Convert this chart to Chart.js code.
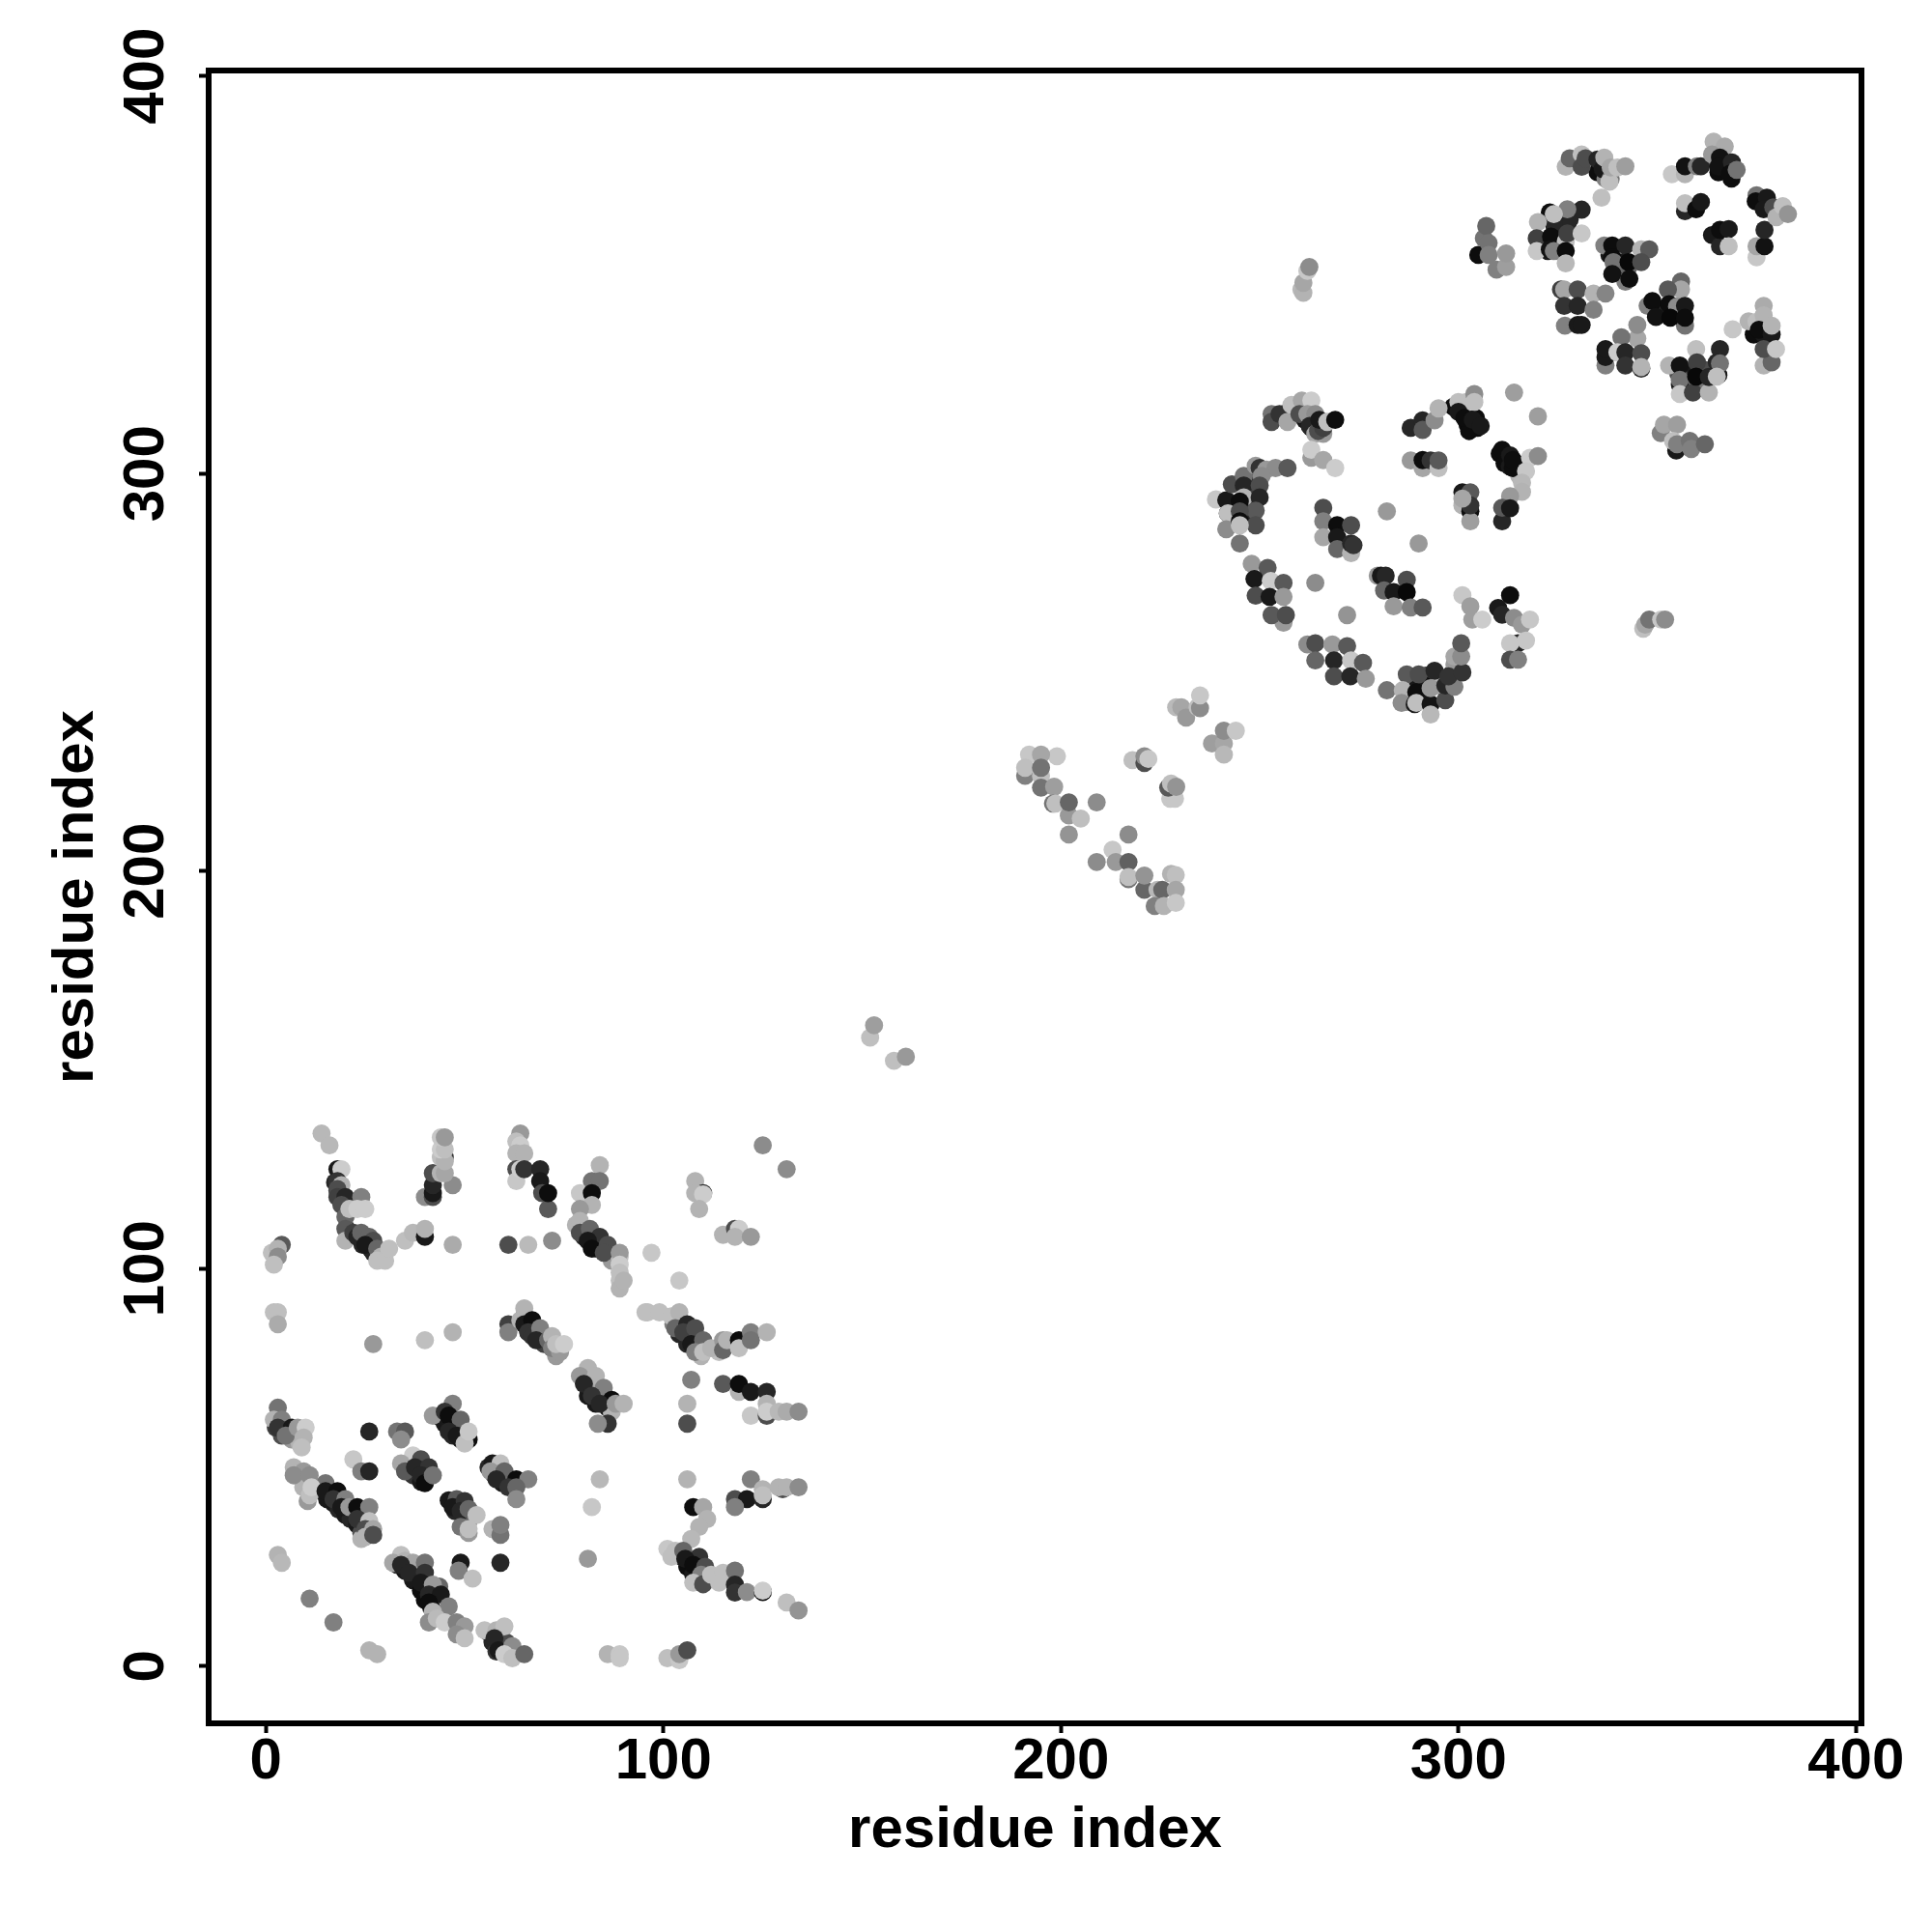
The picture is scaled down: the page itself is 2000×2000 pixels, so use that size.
<!DOCTYPE html>
<html>
<head>
<meta charset="utf-8">
<title>residue contact map</title>
<script src="https://cdn.jsdelivr.net/npm/chart.js@4/dist/chart.umd.min.js"></script>
<style>
  html, body { margin: 0; padding: 0; background: #fff; }
  canvas { display: block; }
</style>
</head>
<body>
<canvas id="contactMap" width="2000" height="2000"></canvas>
<script>
// each contact: [residue i, residue j, score] - score read from the grey of the dot
const tickValues = [0, 100, 200, 300, 400];
const axisTitle = 'residue index';

const firstDomainUpper = [
  [14,134,.28],[16,131,.28],[18,125,.9],[19,125,.2],[18,122,.8],[19,121,.3],[18,120,.7],[18,118,.75],[20,118,.85],[24,118,.5],
  [19,116,.7],[20,113,.6],[21,115,.25],[23,115,.2],[25,115,.2],[20,110,.65],[20,107,.3],[22,109,.75],[23,108,.85],[24,109,.6],
  [26,108,.6],[27,107,.7],[25,106,.9],[28,105,.6],[29,103,.3],[28,102,.25],[30,102,.25],[31,105,.25],[35,107,.25],[37,109,.28],
  [40,108,.9],[40,110,.3],
  [40,118,.45],[42,118,.7],[42,119,.9],[42,121,.85],[47,121,.45],[42,124,.7],[44,124,.3],[45,124,.35],[45,128,.8],[44,128,.25],
  [45,127,.3],[44,130,.2],[45,130,.25],[44,133,.22],[45,133,.4],
  [47,106,.33],[61,106,.7],[66,106,.27],[72,107,.45],
  [64,134,.4],[63,132,.25],[64,131,.2],[63,129,.3],[65,129,.3],[63,125,.7],[63,122,.22],[64,125,.2],[65,125,.8],[69,125,.85],
  [69,122,.9],[69.5,119,.7],[71,115,.65],[71,119,.95],
  [84,126,.3],[82,122,.55],[84,122,.55],[79,119,.22],[82,119,.95],[82,116,.3],[79,115,.4],[79,112,.3],[79,109,.7],[81.5,110,.6],
  [84,108,.8],[81,107,.9],[82,105,.95],[86,106,.7],[85,104,.7],[89,104,.4],[89,101,.2],[89,99,.25],[89,95,.3],[90,97,.3],
  [97,104,.22],[104,97,.22],
  [108,122,.3],[110,119,.8],[108,119,.3],[110,118.7,.2],[109,115,.3],
  [115,108.5,.3],[118,110,.7],[119,110,.2],[118,108,.3],[122,108,.4],[125,131,.45],[131,125,.45]
];

const firstDomainMiddle = [
  [4,106,.65],[1.5,104,.25],[3,105,.3],[3,103,.45],[2,101,.25],[2,89,.25],[3,89,.25],[3,86,.33],
  [27,81,.4],[40,82,.25],[47,84,.3],
  [65,90,.3],[61,86,.75],[61,84,.5],[64,87,.3],[65,86,.9],[67,87,.95],[66,84,.8],[67,83,.8],[69,85,.5],[68,82,.85],
  [71,82,.6],[72,83,.3],[72,80,.5],[74,79,.4],[73,81,.25],[75,81,.2],
  [81,75,.3],[79,73,.4],[83,73,.3],[80,71,.85],[85,70,.5],[82,68,.8],[87,67,.95],[84,66,.85],[88,66,.4],[90,66,.3],
  [86,61,.8],[83.5,61,.45],
  [96,89,.25],[95.5,89,.25],[99,89,.25],[102,88,.25],[104,89,.3],[103,85,.6],[106,86,.85],[105,84,.75],[108,85,.7],[107,81,.9],
  [110,82,.6],[108,79,.5],[110,79,.25],[112,80,.3],[115,82,.4],[115,79.5,.6],[116,82,.3],[119,82,.95],[119,80,.25],[122,84,.5],
  [122,82,.55],[126,84,.3],
  [107,72,.5],[106,66,.3],[106,61,.7],
  [115,71,.65],[119,69,.3],[119,71,.95],[122,69,.9],[126,69,.85],[126,66,.3],[122,63,.22],[126,63,.7],[126,64,.2],[129,64,.28],
  [131,64,.33],[134,64,.45]
];

const firstDomainLower = [
  [3,65,.55],[2,62,.3],[4,62,.5],[3,60,.8],[6.5,60,.9],[5,58,.55],[8,60,.4],[10,60,.2],[9.5,57.5,.3],[9,55,.25],
  [26,59,.85],[33,59,.55],[35,59,.65],[34,57,.45],[22,52,.22],[24,49,.5],[26,49,.85],
  [47,66,.5],[42,63,.4],[45,64,.8],[46,63,.95],[49,62,.6],[46,59,.85],[48,58,.9],[51,57,.95],[50,56,.25],[51,59,.22],
  [37,53,.2],[34,51,.35],[39,52,.7],[35,49,.65],[37.5,50,.85],[41,50,.8],[39,48,.85],[40,46,.95],[42,48,.55],
  [57,51,.9],[59,51,.25],[56.5,49,.4],[60,49,.6],[58,47,.85],[63,47,.95],[66,47,.5],[61,45,.8],[63,45,.6],[63,42,.45],
  [48,42,.65],[47,40,.9],[50,41.5,.8],[49,39,.85],[51,39.5,.6],[53,38,.25],[49,35,.55],[51,33.5,.4],[51,34.5,.25],
  [57,34.5,.3],[59,33,.55],[59,35.5,.5],
  [7,50,.3],[9.5,49,.4],[7,48,.45],[11,48,.45],[15,46,.55],[10.5,41.5,.4],[11,43,.25],[11.5,45,.2],[15,44,.9],[18,44,.95],
  [17,42,.8],[20,42,.5],[19,40,.9],[21,40,.4],[23,40,.95],[26,40,.5],[23,37,.8],[26,36.5,.25],[25,34.5,.7],[27,34.5,.35],
  [25,32.5,.3],[27,33,.7],
  [34,28,.25],[32,26,.35],[35,26.5,.3],[37,26,.35],[34,25.5,.85],[40,26,.55],[36,23.5,.85],[40,23.5,.8],[39,21,.9],[42,20.5,.4],
  [41,18,.85],[44,18,.9],[41,16,.95],[46,15,.5],[42,13.7,.3],
  [49,26,.9],[48.5,24,.5],[52,22,.25],[59,26,.85],[3,28,.3],[4,26,.28],[11,17,.5],[17,11,.5],[26,4,.3],[28,3,.3],
  [41,11,.45],[43,12,.27],[45,11,.2],[48,11,.5],[50,10,.4],[48,8,.45],[50,7,.25],
  [55,9,.25],[58,9,.3],[60,10,.25],[57.5,7,.85],[58.5,4,.9],[62,5,.45],[60,3,.2],[62,2,.25],[65,3,.6],
  [86,3,.3],[89,3,.22],[89,2,.22],[101,2,.25],[104,1.5,.22],[104,3,.4],[106,4,.7],
  [81,27,.4],[84,47,.28],[82,40,.22],
  [106,47,.3],[107.5,40,.95],[110,40,.35],[111,37,.3],[109,35,.3],[107,32,.28],
  [101,29.5,.22],[103,29,.25],[102,27.5,.25],[105,29,.6],[109,27.5,.8],[105.5,27,.9],[107.5,25.5,.95],[110.5,25,.7],[109.5,23,.5],
  [107.5,21,.25],[110,20.6,.7],[112,23,.25],[115,23.5,.25],[114,21,.25],[118,24,.55],[118,20.5,.85],[118,18.5,.8],[121,18.6,.45],
  [125,18.6,.95],[125,19,.2],[131,16,.25],[134,14,.42],
  [122,47,.5],[118,42,.7],[121,42,.9],[118,40,.5],[125,42,.85],[125,44.5,.3],[125,43,.25],[130,44.5,.7],[129,45,.3],[131,45,.3],[134,45,.45]
];

// dots mostly hidden inside the strands of the first domain, drawn underneath
const firstDomainHidden = [
  [17.4,121.7,.85],[18,119.7,.85],[19,117.7,.85],[20.3,110,.85],[22.3,108.5,.85],[24.3,106,.85],[26.3,105,.85],[27,104,.85],[29,103,.85],
  [20.3,113.5,.25],[23,115.5,.2],
  [78,111,.3],[80,108,.85],[82,106,.9],[83,105,.7],[86,104,.85],[87,102,.4],[89,103,.25],[89,97,.25],
  [65,88,.9],[66,84,.85],[68,83,.9],[70,81,.75],[72,80,.6],[73,78,.4],[74,80.6,.3],
  [80,72,.8],[81,68,.9],[83,66,.9],[84,68,.7],[86,65,.9],[82,72,.35],[87,64,.3],
  [102.5,86,.5],[104,83.5,.85],[106,81,.85],[108,81,.6],[109.5,78,.3],[114,79,.25],
  [2.5,60,.75],[4,58,.7],[6.5,57,.4],[8.5,56,.3],
  [44,62.5,.85],[45,61,.9],[47,58,.85],[49,57,.9],[50,58,.7],
  [36,50,.8],[37,48,.8],[39,46.4,.9],
  [56,50,.85],[57.5,48,.85],[59.5,46,.9],[62,45,.95],
  [46,41.7,.9],[47.6,39,.85],[50,38,.85],[51,36.5,.6],
  [14,44,.85],[15.4,42,.9],[17,41,.9],[18.3,39.4,.85],[20,38,.9],[21.3,37,.85],[23,35.6,.9],[24,33.5,.7],[24,32,.3],[9.4,45,.3],
  [33,25.5,.8],[35,24,.9],[37,21.6,.9],[39,19,.95],[40,16.6,.95],[41.6,14.7,.9],[42,18,.85],[43.6,20,.6],[39,24,.5],
  [56,8.4,.5],[57,6,.85],[58,3.7,.8],[60.5,6,.7],[62,3,.3],
  [104.6,27.5,.85],[106,25,.95],[107.5,23,.9],[109.5,21.5,.85]
];

const linkerContacts = [
  [152,158.1,.25],[153,161.2,.38],[158,152.3,.25],[161,153.3,.4]
];

const bridgeContacts = [
  [229,241.2,.27],[230.3,241.2,.35],[231.5,238.6,.4],[234.4,241.2,.25],[235,241,.45],[235,244.2,.22],
  [238,232.1,.38],[241,232.1,.35],[241,229.3,.28],[241,235.3,.45],[244,235.3,.22],
  [218,227.9,.25],[221,227.2,.7],[221,228.9,.45],[222,228.2,.22],
  [227.5,218.2,.22],[228.7,218.2,.22],[227,221,.65],[227.7,222,.25],[229,221.2,.42],
  [192,229.3,.22],[199,228.9,.22],[195,229.3,.35],[191,224,.5],[191,226,.25],[195,224,.25],[195,226,.55],[195,221,.55],[198.3,221.2,.38],
  [198,217,.55],[198.6,217,.25],[202,214,.4],[202,217.3,.6],[209,217.3,.45],[205,213.2,.25],[202,209.2,.42],
  [217,209.2,.45],[213,205.4,.22],[209,202.3,.45],[213.8,202.3,.4],[217,202.3,.62],[217,198,.55],[217,198.5,.25],[221,195.3,.6],[221,198.9,.42],
  [227.7,199.3,.3],[228.9,199,.25],[224.3,195.3,.28],[225.5,195.3,.6],[228.9,195.3,.35],[223.6,191.2,.5],[225.9,191.2,.3],[228.9,192,.22]
];

const secondDomainUpper = [
  [253,315,.55],[253,313,.7],[255,315,.8],[257,313,.35],[258,317.3,.25],[260.6,318.4,.35],[263,318.4,.2],[260,315,.7],[262,315,.4],[264,315,.45],
  [262.6,312,.85],[264,310,.35],[264.7,310.7,.7],[266,311.5,.75],[265,313.5,.9],[267,313,.25],[269,313.5,.95],
  [263,304,.4],[263,306,.2],[266,303.4,.35],[269,301.4,.2],
  [239,293.5,.22],[241.6,293.3,.9],[243,297.3,.7],[246,299.4,.55],[249,302,.4],[250,301.4,.8],[251.7,301,.4],[254,301.4,.45],[257,301.4,.65],
  [250.5,299.4,.45],[246,297,.85],[250,297,.7],[246,294,.3],[250,294,.85],[245,293,.95],[249,290.7,.65],[242,290,.9],[242,290,.25],[245,290.5,.7],
  [241.6,286,.45],[245,288,.95],[249,287,.7],[245,287,.25],[245,282.4,.55],
  [266,291.4,.7],[266,288,.5],[269.5,287,.95],[273,287,.7],[266,284,.35],[269.5,284,.9],[269.5,281,.6],[273,280,.3],[273,282.4,.85],[273.6,282,.8],
  [282,290.5,.4],[290,282.4,.4],
  [288,311.5,.85],[291,313.4,.85],[291,311,.65],[294,313.4,.45],[295,316.4,.3],[300,318,.25],[302,318,.25],[304,320,.45],[304,318,.25],
  [300,315.5,.9],[303,311.5,.95],[301.5,314,.95],[303.6,313.5,.9],[305.6,312,.9],[314,320.4,.38],[320,314.4,.38],
  [288,303.3,.4],[291,301.4,.35],[291,303.4,.95],[293,303.3,.8],[295,301.4,.25],[295,303.3,.65],
  [311,306,.95],[313.7,301.4,.95],[313,304.6,.9],[313.7,303.4,.95],[318,304,.2],[320,304.4,.45],[317,300.6,.22],[316,297.7,.28],[316,295.4,.3],
  [313,294.3,.4],[311,288,.85],[311,291.4,.65],[313,291.3,.9],
  [301,295.3,.9],[303,295.3,.65],[301,292,.3],[303,290.5,.95],[303,288,.38],[303,292,.8],[301,293.7,.35]
];

const secondDomainLower = [
  [248,277.3,.4],[252,276.3,.65],[248.7,273.5,.9],[252.8,273,.2],[256,272.5,.65],[249,269.3,.7],[252.5,269,.9],[256,269,.4],
  [256,262.5,.4],[253,264.4,.65],[256.6,264.4,.7],[264,272.5,.45],[272,264.4,.42],
  [279.7,274.3,.4],[280.5,274.3,.9],[281.7,274.3,.85],[287,273.3,.7],[281.3,270.6,.6],[283.7,270.2,.9],[287,270.2,.97],[283.7,266.6,.4],[288,266.3,.5],[291,266.3,.65],
  [301,269.4,.22],[303,266.6,.38],[303.5,263.3,.38],[306,263.3,.2],
  [313,269.4,.95],[310,266.2,.9],[311,264.5,.85],[314,263.7,.45],[316,262,.4],[318,263.3,.22],[315,257.3,.85],[313,257.3,.22],[317,258,.22],[313,253.2,.7],[315,253.2,.5],
  [262,257,.45],[264,257.3,.7],[264,253,.6],[268.3,257,.4],[272,256.6,.65],[268.7,253,.85],[273,253,.22],[276,252.4,.65],[268.7,249,.7],[272.8,249,.85],[276.7,248.4,.4],
  [282,245.5,.55],[287,249.5,.65],[286,245.5,.3],[285.7,242.3,.45],[290,249.5,.7],[294,250.4,.85],[289,242,.9],[289.4,245,.95],[289.4,242.3,.25],[293,242,.92],[293,246,.4],
  [293,239.4,.28],[296.7,243,.7],[296.7,246.7,.85],[299,246.4,.5],[297.5,249,.8],[299,254,.35],[301,250,.8],[300.7,254,.45],[300.7,257.3,.65]
];

// same idea for the later domains
const laterDomainsHidden = [
  [298.7,316.8,.95],[300.7,316.8,.6],[302.3,312.3,.95],[304.4,314,.95],[304.8,311.5,.95],[302.7,310.7,.95],
  [310.4,305,.95],[311.6,302.6,.95],[312.9,301.8,.9],[314.5,302.6,.9],[315.3,299.4,.3],
  [243,292,.9],[246,292,.9],[244,290,.9],[247.7,295.7,.75],[247.7,291,.8],[245.6,288,.85],[248.9,299,.8],
  [261.4,313.5,.9],[263,311.5,.9],[256.6,315.2,.5],[266,310,.4],[265,312.3,.85],
  [291.8,249.2,.75],[291.4,246.7,.95],[291,244.3,.9],[295,246.7,.3],[287,242.7,.9],[289.8,247,.9],[298.7,250,.9],[299,252,.4],[297.5,248.4,.4],
  [321.7,357.2,.9],[325,358,.45],[324.1,362.5,.85],[322.5,356,.9],[327.4,362.5,.85],[328,364,.85],[323,365.7,.95],[325,356,.35],
  [340.3,352.7,.6],[341.6,353.2,.9],[338,355,.9],[341,350.3,.8],
  [363.8,360,.9],[378.4,366.5,.9],[367,378.7,.93],[365.4,375.8,.95],[368.7,374.2,.95],
  [350.9,341,.95],[355,340.6,.9],[352.5,340.6,.85],
  [374.3,335,.95],[376.8,335,.9],[376,336.6,.3],
  [358.6,325.2,.9],[362.2,326,.7],[359.8,322,.55],[365.4,324.8,.9],[355.3,325.2,.7],
  [335,375.8,.95],[337,374.2,.5]
];

const crossDomainContacts = [
  [260.5,346.3,.28],[261,345.5,.3],[261,348,.35],[262,351,.22],[262.5,352,.45],
  [346.5,261,.25],[347,262,.35],[348,263.3,.55],[351,263.3,.22],[352,263.3,.45],
  [305,355,.95],[306.4,359.2,.55],[307,362.3,.6],[307.6,358,.55],[307.6,355,.5],[309.6,351.3,.5],[312,352,.38],[312,355.4,.4]
];

const thirdDomainUpper = [
  [327,377.2,.3],[328,379.3,.6],[331,380.3,.25],[331,377.2,.7],[332,379.3,.7],[335,379,.85],[336.3,376.6,.9],[336.7,379.5,.3],[338.3,374.2,.55],[338,373.4,.25],
  [338.3,377,.35],[340,377,.25],[342,377.3,.38],[336,369.4,.25],
  [353.7,375.3,.22],[357,375.3,.3],[357,377.3,.93],[360,377.3,.5],[361,377.3,.85],
  [364.2,383.5,.3],[367,382.3,.33],[363.8,380.3,.4],[365.8,379.5,.93],[365.4,377.2,.93],[368.8,378.3,.85],[368.3,375.4,.95],[370,376.4,.55],
  [357,366,.85],[357,368,.25],[359.8,366.5,.95],[361,368.3,.9],
  [365.8,357.2,.85],[365.8,361.3,.95],[368,361.5,.9],[368,357.2,.25],
  [375,354.4,.22],[375,357.2,.35],[377,357.2,.93],[377,361.3,.85],
  [375,370,.55],[374.8,368.5,.95],[377.6,369.4,.9],[376.8,366.5,.9],[379.2,367,.7],[380,364.5,.3],[381.6,367.3,.25],[382.9,365.3,.42],
  [331,366.4,.85],[327.4,366.5,.5],[324,363,.85],[324,365.3,.25],[320,363.3,.3],[319.7,359.2,.75],[323.3,359.6,.95],[327,358.4,.25],[327.4,360.4,.75],[331,360.4,.22],
  [319.7,356,.22],[323,356.4,.93],[324,356,.5],[327,356,.95],[327,352.9,.28],
  [336.7,357.4,.5],[338.7,357.4,.95],[342,357.4,.85],[346,356.4,.3],[348,356.4,.65],[338.7,354.4,.95],[339,353.2,.55],[342.8,352,.6],[342.8,353.2,.97],[346,353.2,.7],
  [342,348.3,.5],[338.7,350.2,.93],[343,349,.95]
];

const thirdDomainLower = [
  [356,348.3,.6],[356,346.3,.35],[352.7,346.3,.65],[347.6,342.2,.5],[348.8,343.4,.95],[353,342.6,.95],[355,342,.45],[357,342.2,.9],[357,337.2,.55],[349.7,339.4,.93],[353.3,339.2,.97],[357,339.2,.95],
  [325.8,346.3,.75],[326.6,346.3,.35],[330,346.3,.7],[334,345.3,.3],[337,345.3,.48],[326.6,342.2,.8],[330,342.2,.85],[334,341.2,.5],[326.8,337.2,.5],[330,337.4,.9],[331,337.4,.9],
  [345,334,.35],[345,337.4,.45],[341,334.3,.55],[337,327.2,.5],[337,329.3,.9],[337,331.3,.9],[340,330.5,.2],[342,330.5,.85],[346,330.3,.7],[342,327.2,.8],[346,326.4,.85],[346,326.8,.3],
  [353,327.2,.3],[359.8,331.3,.25],[365.8,331.3,.85],[355.7,327.2,.93],[360,328,.75],[365,328,.85],[365.8,327.7,.55],[355.7,322.4,.9],[355.7,323.6,.55],[355.7,320,.22],
  [359,320.4,.75],[363,320.4,.3],[359.8,324.4,.97],[363,324.3,.85],[365,324.4,.25],
  [373,338.3,.3],[375,338.2,.25],[376.8,342.2,.33],[376.8,339.8,.3],[375.6,336.2,.95],[378.8,335,.9],[378.8,337.2,.3],[376.8,327.2,.3],[378.8,328,.6],[376.8,331.3,.7],[379.9,331.3,.22],[369,336.3,.22],
  [350.9,310.2,.5],[351.7,312.3,.35],[355,312.3,.38],[354.8,305.8,.9],[354,308.2,.25],[355,307.4,.5],[358.2,308.2,.55],[358.6,306.2,.5],[362,307.4,.6]
];

// Chart.js paints the last dataset first, so the hidden dots go at the end
const contactGroups = [
  thirdDomainLower, thirdDomainUpper, crossDomainContacts, secondDomainLower, secondDomainUpper,
  bridgeContacts, linkerContacts, firstDomainLower, firstDomainMiddle, firstDomainUpper,
  laterDomainsHidden, firstDomainHidden
];

// score 1 is black, score 0 is white
function greyFromScore(score) {
    const level = Math.round(255 * (1 - score));
    return `rgb(${level}, ${level}, ${level})`;
}

// box drawn round the plot area, R style
const frameBox = {
    id: 'frameBox',
    afterDraw(chart) {
        const { ctx, chartArea } = chart;
        ctx.save();
        ctx.strokeStyle = '#000';
        ctx.lineWidth = 6;
        ctx.strokeRect(chartArea.left, chartArea.top, chartArea.right - chartArea.left, chartArea.bottom - chartArea.top);
        ctx.restore();
    }
};

const axisFont = { family: '"Liberation Sans", Arial, sans-serif', size: 60, weight: 'bold' };

function axisOptions(extra) {
    return Object.assign({
        type: 'linear',
        min: -14.4,
        max: 401.4,
        afterBuildTicks: scale => { scale.ticks = tickValues.map(value => ({ value })); },
        grid: { drawOnChartArea: false, drawTicks: true, tickLength: 10, tickWidth: 4, tickColor: '#000' },
        border: { display: false }
    }, extra);
}

new Chart(document.getElementById('contactMap'), {
    type: 'scatter',
    data: {
        datasets: contactGroups.map(group => ({
            data: group.map(c => ({ x: c[0], y: c[1] })),
            pointBackgroundColor: group.map(c => greyFromScore(c[2])),
            pointBorderWidth: 0,
            pointRadius: 9.4,
            pointHoverRadius: 9.4
        }))
    },
    options: {
        responsive: false,
        animation: false,
        devicePixelRatio: 1,
        layout: { padding: { left: 0, top: 73, right: 73, bottom: 0 } },
        plugins: { legend: { display: false }, tooltip: { enabled: false } },
        scales: {
            x: axisOptions({
                afterFit: scale => { scale.height = 216; },
                ticks: { color: '#000', font: axisFont, padding: -6, maxRotation: 0, callback: v => String(v) },
                title: { display: true, text: axisTitle, color: '#000', font: axisFont, padding: { top: 0, bottom: 69 } }
            }),
            y: axisOptions({
                afterFit: scale => { scale.width = 216; },
                ticks: { color: '#000', font: axisFont, padding: 3, minRotation: 90, maxRotation: 90, crossAlign: 'center', callback: v => String(v) },
                title: { display: true, text: axisTitle, color: '#000', font: axisFont, padding: { top: 43, bottom: 0 } }
            })
        }
    },
    plugins: [frameBox]
});
</script>
</body>
</html>
